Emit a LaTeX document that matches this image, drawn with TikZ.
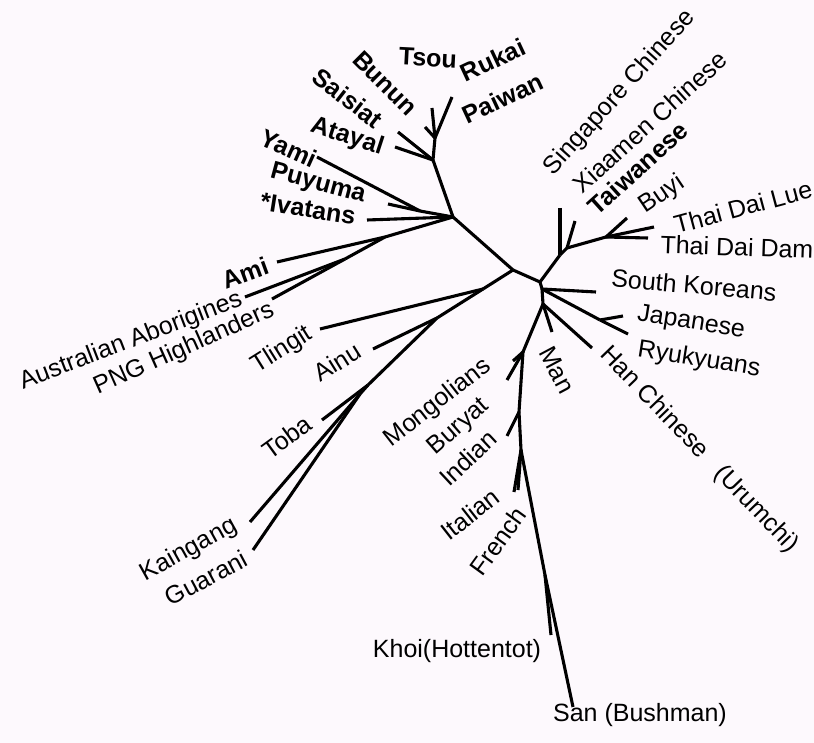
\documentclass[tikz,border=0pt]{standalone}
\usepackage{fontspec}
\setmainfont{Liberation Sans}
\definecolor{paper}{RGB}{253,249,253}
\begin{document}
\begin{tikzpicture}[x=1pt, y=-1pt,
  br/.style={line width=3.1pt, line join=round},
  tx/.style={font=\fontsize{25}{30}\selectfont, inner sep=0pt, anchor=center},
  bt/.style={tx, font=\fontsize{25}{30}\selectfont\bfseries}
]
\fill[paper] (0,0) rectangle (814,743);
\useasboundingbox (0,0) rectangle (814,743);

% backbone
\coordinate (hub) at (453,217);
\coordinate (j1)  at (513,270);
\coordinate (j2)  at (540,282);

% Austronesian clade
\coordinate (ntop)    at (433,160);
\coordinate (ntsou)   at (435,138);
\coordinate (lf-tsou) at (432,108);
\coordinate (lf-ruk)  at (425,127);
\coordinate (lf-pai)  at (452,97);
\coordinate (lf-bun)  at (398,132);
\coordinate (lf-ata)  at (395,147);
\coordinate (nyp)     at (420,211);
\coordinate (lf-yami) at (317,157);
\coordinate (lf-puy)  at (388,204);
\coordinate (lf-iva)  at (367,220);
\coordinate (nami)    at (385,237);
\coordinate (lf-ami)  at (277,262);
\coordinate (naus)    at (345,259);
\coordinate (lf-aus)  at (245,297);
\coordinate (lf-png)  at (272,299);

% Americas
\coordinate (ntl)    at (483,289);
\coordinate (nai)    at (437,318);
\coordinate (nam)    at (368,385);
\coordinate (nkg)    at (360,394);
\coordinate (lf-tli) at (320,329);
\coordinate (lf-ain) at (373,349);
\coordinate (lf-tob) at (322,420);
\coordinate (lf-kai) at (250,522);
\coordinate (lf-gua) at (253,550);

% East Asia
\coordinate (nsg)     at (560,255);
\coordinate (nxm)     at (567,248);
\coordinate (nth)     at (606,237);
\coordinate (lf-sing) at (560,208);
\coordinate (lf-xia)  at (575,221);
\coordinate (lf-buyi) at (627,218);
\coordinate (lf-lue)  at (654,227);
\coordinate (lf-dam)  at (648,238);
\coordinate (nkj)     at (542,289);
\coordinate (lf-kor)  at (596,292);
\coordinate (njp)     at (600,320);
\coordinate (lf-jap)  at (623,316);
\coordinate (lf-ryu)  at (628,334);
\coordinate (nm)      at (543,304);
\coordinate (lf-han)  at (592,348);
\coordinate (lf-man)  at (552,332);

% trunk down to Africa
\coordinate (nmg)     at (523,352);
\coordinate (lf-mon)  at (507,380);
\coordinate (lf-bur)  at (513,361);
\coordinate (nin)     at (519,412);
\coordinate (lf-ind)  at (507,436);
\coordinate (nif)     at (521,450);
\coordinate (lf-ita)  at (514,492);
\coordinate (lf-fre)  at (518,490);
\coordinate (nkh)     at (545,575);
\coordinate (lf-khoi) at (551,635);
\coordinate (lf-san)  at (573,707);

\foreach \a/\b in {hub/j1, j1/j2,
  ntop/hub, ntsou/ntop, lf-tsou/ntsou, lf-ruk/ntsou, lf-pai/ntsou, lf-bun/ntop, lf-ata/ntop,
  lf-yami/nyp, lf-puy/nyp, nyp/hub, lf-iva/hub, nami/hub, lf-ami/nami, naus/nami, lf-aus/naus, lf-png/naus,
  j1/ntl, ntl/nai, nai/nam, nam/nkg, lf-tli/ntl, lf-ain/nai, lf-tob/nam, lf-kai/nkg, lf-gua/nkg,
  j2/nsg, nsg/nxm, nxm/nth, lf-sing/nsg, lf-xia/nxm, lf-buyi/nth, lf-lue/nth, lf-dam/nth,
  j2/nkj, nkj/nm, nkj/lf-kor, nkj/njp, njp/lf-jap, njp/lf-ryu, nm/lf-han, nm/lf-man,
  nm/nmg, nmg/lf-mon, nmg/lf-bur, nmg/nin, nin/lf-ind, nin/nif, nif/lf-ita, nif/lf-fre,
  nif/nkh, nkh/lf-khoi, nkh/lf-san} {
  \draw[br] (\a) -- (\b);
}

% labels
\foreach \nm/\px/\py/\ang/\txt in {
  sing/620/93/48/Singapore Chinese, xia/650/122/42/Xiaamen Chinese,
  buyi/662/195/34/Buyi, lue/743/207/15/Thai Dai Lue, dam/737/247/-2/Thai Dai Dam,
  kor/694/285/-5/South Koreans, jap/691/323/-9/Japanese, ryu/699/360/-9/Ryukyuans,
  han/699/450/-46/Han Chinese\hspace{0.8em}(Urumchi), man/557/370/-62/Man,
  mon/438/403/38/Mongolians, bur/459/427/41/Buryat, ind/468/458/43/Indian,
  ita/470/514/38/Italian, fre/498/541/54/French,
  khoi/457/651/0/Khoi(Hottentot), san/640/715/0/San (Bushman),
  aus/131/341/21/Australian Aborigines, png/184/349/24/PNG Highlanders,
  tli/282/350/32/Tlingit, ain/337/362/32/Ainu, tob/287/437/36/Toba,
  kai/189/550/29/Kaingang, gua/206/578/28/Guarani} {
  \node[tx, rotate=\ang] (\nm) at (\px,\py) {\txt};
}
\foreach \nm/\px/\py/\ang/\txt in {
  tai/638/168/42/Taiwanese, tsou/428/58/-3/Tsou, ruk/493/60/25/Rukai,
  pai/503/98/25/Paiwan, bun/385/83/-45/Bunun, sai/348/98/-38/Saisiat,
  ata/347/137/-18/Atayal, yami/289/148/-24/Yami, puy/318/184/-15/Puyuma,
  iva/308/209/-9/*Ivatans, ami/245/273/20/Ami} {
  \node[bt, rotate=\ang] (\nm) at (\px,\py) {\txt};
}
\end{tikzpicture}
\end{document}
